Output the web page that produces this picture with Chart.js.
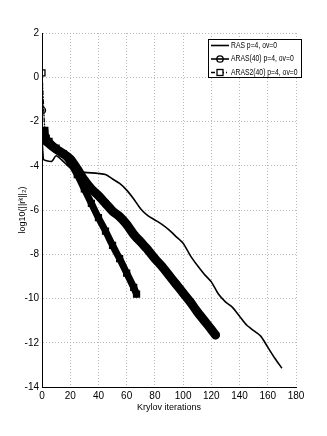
<!DOCTYPE html>
<html>
<head>
<meta charset="utf-8">
<script src="https://cdn.jsdelivr.net/npm/chart.js@4.4.1/dist/chart.umd.min.js"></script>
<style>
    html, body { margin: 0; padding: 0; background: #fff; }
    #wrap { width: 327px; height: 436px; }
</style>
</head>
<body>
<div id="wrap"><canvas id="convChart" width="327" height="436"></canvas></div>
<script>
// Residual history (iteration -> log10 of residual norm)
const rasIter = [0, 1, 2, 7, 10, 15, 20, 25, 30, 35, 40, 45, 50, 55, 60, 65, 70, 75, 80, 85, 90, 95, 100, 105, 110, 115, 120, 125, 130, 135, 140, 145, 150, 155, 160, 165, 170];
const rasVal = [-2.75, -3.7, -3.75, -3.8, -3.55, -3.8, -4.1, -4.3, -4.3, -4.32, -4.35, -4.4, -4.6, -4.8, -5.1, -5.5, -5.95, -6.25, -6.45, -6.65, -6.9, -7.2, -7.5, -8.05, -8.5, -8.9, -9.25, -9.8, -10.15, -10.4, -10.8, -11.2, -11.45, -11.7, -12.2, -12.7, -13.15];

const arasIter = [0, 1, 5, 10, 15, 20, 25, 30, 35, 40, 45, 50, 55, 60, 65, 70, 75, 80, 85, 90, 95, 100, 105, 110, 115, 120, 123];
const arasVal = [-1.5, -2.75, -3.0, -3.25, -3.45, -3.7, -4.15, -4.65, -5.05, -5.35, -5.7, -6.05, -6.3, -6.65, -7.1, -7.45, -7.8, -8.2, -8.55, -8.95, -9.35, -9.75, -10.15, -10.6, -11.0, -11.4, -11.65];

const aras2Iter = [0, 2, 3, 5, 10, 15, 20, 25, 30, 35, 40, 45, 50, 55, 60, 65, 67];
const aras2Val = [0.2, -2.4, -2.75, -2.9, -3.2, -3.45, -3.85, -4.4, -5.05, -5.7, -6.35, -6.95, -7.6, -8.2, -8.85, -9.5, -9.8];

const seriesLabels = ["RAS p=4, ov=0", "ARAS(40) p=4, ov=0", "ARAS2(40) p=4, ov=0"];
const xTicks = [0, 180, 20];   // min, max, step
const yTicks = [-14, 2, 2];

const FONT = "'Liberation Sans Narrow', 'Liberation Sans', Arial, sans-serif";

function toPoints(xs, ys) {
    return xs.map((x, i) => ({ x: x, y: ys[i] }));
}

// MATLAB style legend box drawn inside the axes
const legendBox = {
    id: "legendBox",
    afterDraw(chart) {
        const { ctx, chartArea } = chart;
        const x0 = chartArea.right - 88, y0 = chartArea.top + 6, w = 93, h = 38;
        ctx.save();
        ctx.fillStyle = "#fff";
        ctx.fillRect(x0, y0, w, h);
        ctx.strokeStyle = "#000";
        ctx.lineWidth = 1;
        ctx.strokeRect(x0 + 0.5, y0 + 0.5, w, h);
        ctx.font = "8.5px " + FONT;
        ctx.textBaseline = "middle";
        ctx.fillStyle = "#000";

        const dashes = [[], [], [4, 2, 1, 2]];
        const marks = [null, "circle", "rect"];
        seriesLabels.forEach((label, i) => {
            const y = y0 + 6.5 + i * 13.5;
            ctx.setLineDash(dashes[i]);
            ctx.lineWidth = 1.6;
            ctx.beginPath();
            ctx.moveTo(x0 + 3, y);
            ctx.lineTo(x0 + 21, y);
            ctx.stroke();
            ctx.setLineDash([]);
            ctx.lineWidth = 1.3;
            if (marks[i] === "circle") {
                ctx.beginPath();
                ctx.arc(x0 + 12, y, 3.2, 0, Math.PI * 2);
                ctx.stroke();
            } else if (marks[i] === "rect") {
                ctx.fillStyle = "#fff";
                ctx.fillRect(x0 + 9, y - 3, 6, 6);
                ctx.strokeRect(x0 + 9, y - 3, 6, 6);
                ctx.fillStyle = "#000";
            }
            // squeeze the text like the narrow MATLAB font
            ctx.save();
            ctx.translate(x0 + 23, y);
            ctx.scale(0.8, 1);
            ctx.fillText(label, 0, 0);
            ctx.restore();
        });
        ctx.restore();
    }
};

const ctx = document.getElementById("convChart").getContext("2d");
new Chart(ctx, {
    type: "line",
    data: {
        datasets: [
            {
                label: seriesLabels[0],
                data: toPoints(rasIter, rasVal),
                borderColor: "#000",
                borderWidth: 1.6,
                pointRadius: 0,
                tension: 0.25,
                order: 3
            },
            {
                label: seriesLabels[1],
                data: toPoints(arasIter, arasVal),
                borderColor: "#000",
                borderWidth: 9,
                borderCapStyle: "round",
                borderJoinStyle: "round",
                pointStyle: "circle",
                pointRadius: 3.5,
                pointBorderWidth: 1.3,
                pointBorderColor: "#000",
                pointBackgroundColor: "rgba(0,0,0,0)",
                tension: 0.25,
                segment: {
                    borderWidth: c => (c.p0DataIndex === 0 ? 1.3 : 9)
                },
                order: 2
            },
            {
                label: seriesLabels[2],
                data: toPoints(aras2Iter, aras2Val),
                borderColor: "#000",
                borderWidth: 7,
                borderCapStyle: "round",
                borderJoinStyle: "round",
                pointStyle: "rect",
                pointRadius: 4.2,
                pointBorderWidth: 1.3,
                pointBorderColor: "#000",
                pointBackgroundColor: "rgba(0,0,0,0)",
                tension: 0.25,
                segment: {
                    borderWidth: c => (c.p0DataIndex === 0 ? 1.3 : 7),
                    borderDash: c => (c.p0DataIndex === 0 ? [4, 2, 1, 2] : [])
                },
                order: 1
            }
        ]
    },
    options: {
        responsive: false,
        animation: false,
        layout: { padding: { left: 0, top: 33, right: 31, bottom: 23 } },
        plugins: {
            legend: { display: false },
            tooltip: { enabled: false }
        },
        scales: {
            x: {
                type: "linear",
                min: xTicks[0],
                max: xTicks[1],
                ticks: { stepSize: xTicks[2], color: "#000", font: { family: FONT, size: 10 }, padding: 3, maxRotation: 0 },
                grid: { color: "#b8b8b8", drawTicks: false },
                border: { color: "#000", width: 1, dash: [1, 2] },
                title: { display: true, text: "Krylov iterations", color: "#000", font: { family: FONT, size: 9 }, padding: { top: 0, bottom: 0 } },
                afterFit: s => { s.height = 26; }
            },
            y: {
                type: "linear",
                min: yTicks[0],
                max: yTicks[1],
                ticks: { stepSize: yTicks[2], color: "#000", font: { family: FONT, size: 10 }, padding: 3 },
                grid: { color: "#b8b8b8", drawTicks: false },
                border: { color: "#000", width: 1, dash: [1, 2] },
                title: { display: true, text: "log10(||r\u1D4F||\u2082)", color: "#000", font: { family: FONT, size: 9 }, padding: { top: 17, bottom: 0 } },
                afterFit: s => { s.width = 42; }
            }
        }
    },
    plugins: [legendBox]
});
</script>
</body>
</html>
